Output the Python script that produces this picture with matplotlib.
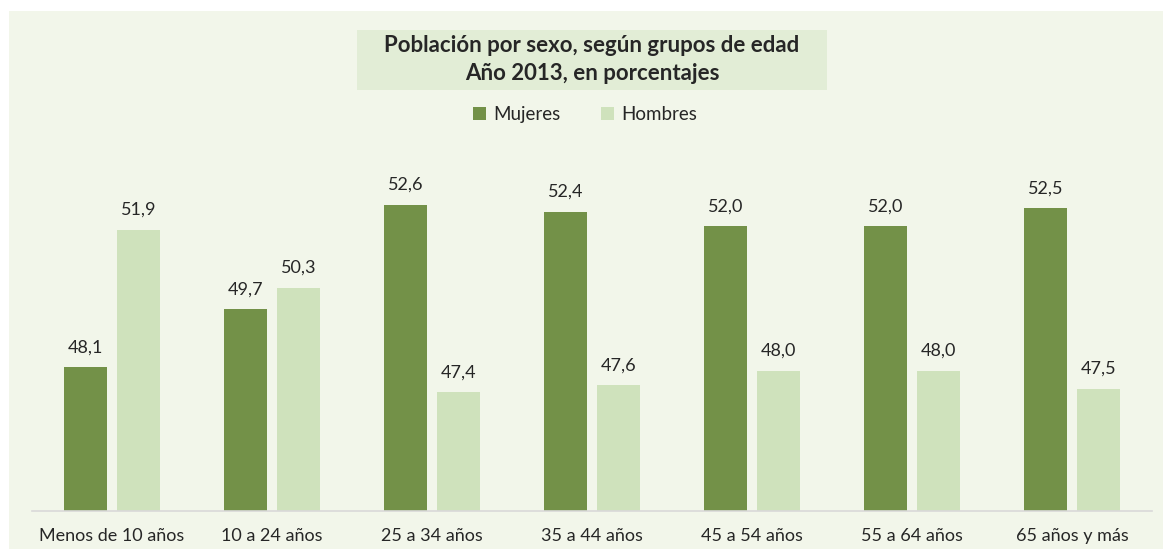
import numpy as np
import matplotlib
matplotlib.use("Agg")
import matplotlib.pyplot as plt
from matplotlib.patches import Rectangle, Patch

plt.rcParams['font.family'] = ['Lato', 'DejaVu Sans']

grupos = ["Menos de 10 años", "10 a 24 años", "25 a 34 años", "35 a 44 años",
          "45 a 54 años", "55 a 64 años", "65 años y más"]
mujeres = [48.1, 49.7, 52.6, 52.4, 52.0, 52.0, 52.5]
hombres = [51.9, 50.3, 47.4, 47.6, 48.0, 48.0, 47.5]

dark = "#739148"
light = "#CFE2BC"
bg = "#F2F6EA"
txt = "#262626"

W, H = 1163, 549
fig = plt.figure(figsize=(W / 100, H / 100), dpi=100)
fig.patch.set_facecolor("white")

# background panel and title box (pixel coords from top-left)
fig.patches.append(Rectangle((9 / W, 0), 1 - 9 / W, 1 - 11 / H, transform=fig.transFigure,
                             facecolor=bg, edgecolor="none", zorder=-10))
fig.patches.append(Rectangle((357 / W, 1 - 90 / H), 470 / W, 60 / H, transform=fig.transFigure,
                             facecolor="#E2EDD6", edgecolor="none", zorder=1))
fig.text(592 / W, 1 - 46 / H, "Población por sexo, según grupos de edad", ha="center", va="center",
         fontsize=16, fontweight="bold", color=txt, zorder=2)
fig.text(592 / W, 1 - 74 / H, "Año 2013, en porcentajes", ha="center", va="center",
         fontsize=16, fontweight="bold", color=txt, zorder=2)

ax_left, ax_right, ax_base, ax_top = 32, 1152, 511, 11
ax = fig.add_axes([ax_left / W, (H - ax_base) / H, (ax_right - ax_left) / W, (ax_base - ax_top) / H])
ax.set_facecolor("none")
ax.set_zorder(0)

ymin = 44.12
px_per_unit = 36.13
ax.set_ylim(ymin, ymin + (ax_base - ax_top) / px_per_unit)
ax.set_xlim(-0.5, len(grupos) - 0.5)

x = np.arange(len(grupos))
w = 0.272
off = 0.165
b1 = ax.bar(x - off, np.array(mujeres) - ymin, w, bottom=ymin, color=dark, label="Mujeres")
b2 = ax.bar(x + off, np.array(hombres) - ymin, w, bottom=ymin, color=light, label="Hombres")
for bars, vals in ((b1, mujeres), (b2, hombres)):
    ax.bar_label(bars, labels=[f"{v:.1f}".replace(".", ",") for v in vals], padding=8.5,
                 fontsize=13, color=txt)

ax.set_xticks(x)
ax.set_xticklabels(grupos, fontsize=13, color=txt)
ax.tick_params(axis="x", length=0, pad=12.5)
ax.set_yticks([])
for s in ("top", "left", "right"):
    ax.spines[s].set_visible(False)
ax.spines["bottom"].set_color("#D9D9D9")
ax.spines["bottom"].set_linewidth(1.2)

handles = [Patch(facecolor=dark, label="Mujeres"), Patch(facecolor=light, label="Hombres")]
fig.legend(handles=handles, loc="center", bbox_to_anchor=(585 / W, 1 - 115 / H), ncol=2,
           frameon=False, fontsize=13.5, handlelength=0.7, handleheight=0.7, handletextpad=0.35,
           columnspacing=2.2, labelcolor=txt)

fig.savefig("out.png", dpi=100, facecolor=fig.get_facecolor())
